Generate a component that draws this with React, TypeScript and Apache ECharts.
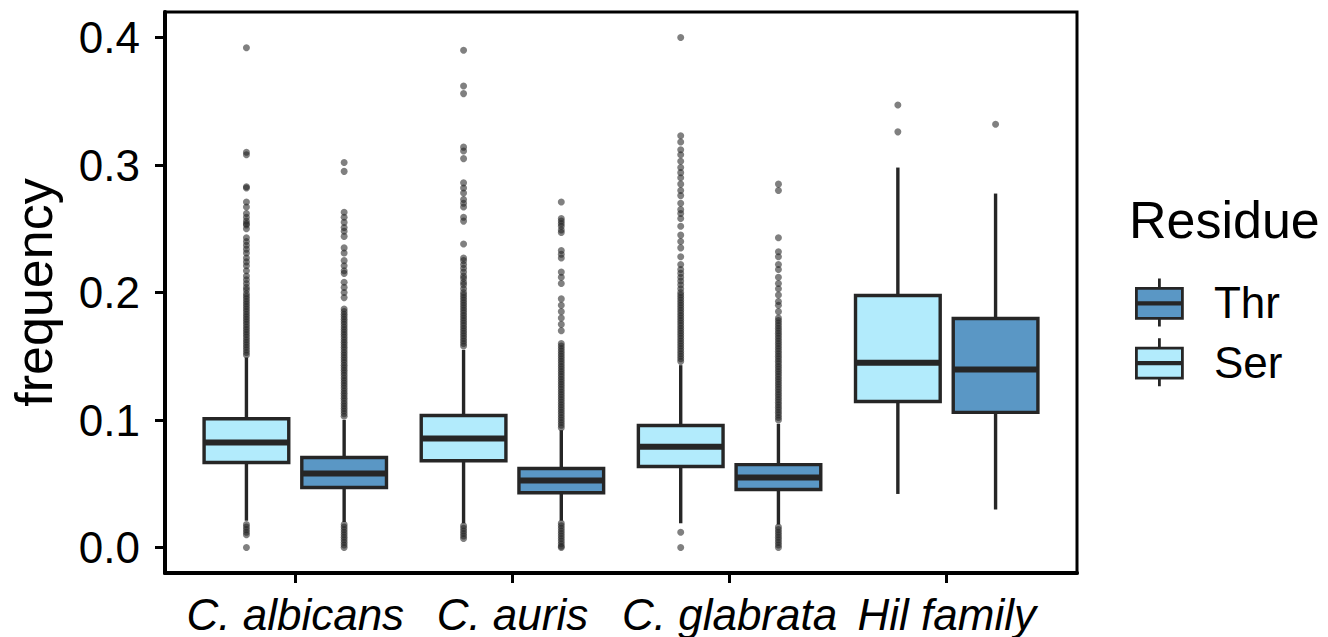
import React, { useEffect, useRef } from "react";
import * as echarts from "echarts";

// ---------- data ----------
const categories = ["C. albicans", "C. auris", "C. glabrata", "Hil family"];
const yTicks = [0, 0.1, 0.2, 0.3, 0.4];

// [low whisker, Q1, median, Q3, high whisker] per category
const serBoxes = [
  [0.021, 0.0667, 0.0824, 0.101, 0.149],
  [0.019, 0.068, 0.0855, 0.1035, 0.155],
  [0.019, 0.0635, 0.079, 0.0957, 0.143],
  [0.042, 0.1145, 0.145, 0.1976, 0.298],
];
const thrBoxes = [
  [0.02, 0.047, 0.058, 0.0706, 0.1],
  [0.021, 0.043, 0.0525, 0.062, 0.092],
  [0.018, 0.0455, 0.055, 0.065, 0.097],
  [0.0298, 0.106, 0.1396, 0.1796, 0.2776],
];

const serOutliers = [
  [0.392, 0.310, 0.308, 0.283, 0.282, 0.271, 0.267, 0.262, 0.259, 0.254, 0.250,
   0.256, 0.253, 0.243, 0.240, 0.237, 0.234, 0.231, 0.227, 0.224, 0.221, 0.217,
   0.213, 0.210, 0.207, 0.204, 0.202, 0.199, 0.197, 0.195, 0.193, 0.191, 0.189,
   0.187, 0.185, 0.183, 0.181, 0.179, 0.177, 0.175, 0.173, 0.171, 0.169, 0.167,
   0.165, 0.163, 0.161, 0.159, 0.157, 0.155, 0.153, 0.151,
   0.018, 0.016, 0.014, 0.012, 0.010, 0.0],
  [0.390, 0.362, 0.356, 0.314, 0.311, 0.305, 0.286, 0.282, 0.278, 0.273, 0.270,
   0.267, 0.259, 0.256, 0.238, 0.227, 0.225, 0.222, 0.219, 0.216, 0.213, 0.211,
   0.208, 0.206, 0.203, 0.200, 0.198, 0.196, 0.194, 0.192, 0.190, 0.188, 0.186,
   0.184, 0.182, 0.180, 0.178, 0.176, 0.174, 0.172, 0.170, 0.168, 0.166, 0.164,
   0.162, 0.160, 0.158,
   0.017, 0.015, 0.013, 0.011, 0.009, 0.007],
  [0.400, 0.323, 0.318, 0.312, 0.308, 0.303, 0.298, 0.294, 0.290, 0.285, 0.280,
   0.276, 0.270, 0.265, 0.262, 0.258, 0.252, 0.245, 0.240, 0.235, 0.228, 0.222,
   0.218, 0.215, 0.212, 0.209, 0.206, 0.203, 0.200, 0.198, 0.196, 0.194, 0.192,
   0.190, 0.188, 0.186, 0.184, 0.182, 0.180, 0.178, 0.176, 0.174, 0.172, 0.170,
   0.168, 0.166, 0.164, 0.162, 0.160, 0.158, 0.156, 0.154, 0.152, 0.150, 0.148,
   0.146, 0.012, 0.0],
  [0.347, 0.326],
];
const thrOutliers = [
  [0.302, 0.295, 0.263, 0.259, 0.255, 0.251, 0.248, 0.244, 0.235, 0.231, 0.225,
   0.221, 0.217, 0.215, 0.208, 0.204, 0.200, 0.196, 0.187, 0.185, 0.183, 0.181,
   0.179, 0.177, 0.175, 0.173, 0.171, 0.169, 0.167, 0.165, 0.163, 0.161, 0.159,
   0.157, 0.155, 0.153, 0.151, 0.149, 0.147, 0.145, 0.143, 0.141, 0.139, 0.137,
   0.135, 0.133, 0.131, 0.129, 0.127, 0.125, 0.123, 0.121, 0.119, 0.117, 0.115,
   0.113, 0.111, 0.109, 0.107, 0.105, 0.103,
   0.018, 0.016, 0.014, 0.012, 0.010, 0.008, 0.006, 0.004, 0.002, 0.0],
  [0.271, 0.258, 0.254, 0.249, 0.256, 0.252, 0.247, 0.233, 0.230, 0.227, 0.216,
   0.212, 0.207, 0.195, 0.190, 0.185, 0.180, 0.175, 0.170, 0.160, 0.158, 0.156,
   0.154, 0.152, 0.150, 0.148, 0.146, 0.144, 0.142, 0.140, 0.138, 0.136, 0.134,
   0.132, 0.130, 0.128, 0.126, 0.124, 0.122, 0.120, 0.118, 0.116, 0.114, 0.112,
   0.110, 0.108, 0.106, 0.104, 0.102, 0.100, 0.098, 0.096, 0.094,
   0.019, 0.017, 0.015, 0.013, 0.011, 0.009, 0.007, 0.005, 0.003, 0.001, 0.0],
  [0.285, 0.280, 0.243, 0.232, 0.228, 0.222, 0.218, 0.212, 0.207, 0.203, 0.198,
   0.193, 0.190, 0.185, 0.180, 0.178, 0.176, 0.174, 0.172, 0.170, 0.168, 0.166,
   0.164, 0.162, 0.160, 0.158, 0.156, 0.154, 0.152, 0.150, 0.148, 0.146, 0.144,
   0.142, 0.140, 0.138, 0.136, 0.134, 0.132, 0.130, 0.128, 0.126, 0.124, 0.122,
   0.120, 0.118, 0.116, 0.114, 0.112, 0.110, 0.108, 0.106, 0.104, 0.102, 0.100,
   0.016, 0.014, 0.012, 0.010, 0.008, 0.006, 0.004, 0.002, 0.0],
  [0.332],
];

// ---------- style ----------
const SER_COLOR = "#B2EBFC";
const THR_COLOR = "#5A97C5";
const LINE_COLOR = "#262626";
const DODGE = 0.225;
const BOX_W = 0.39;
const FONT = "'Liberation Sans', Arial, Helvetica, sans-serif";
const TEXT_SIZE = 44;
const TITLE_SIZE = 52;

const LEGEND_ICON =
  "path://M0,10 L46,10 L46,40 L0,40 Z M0,24.3 L46,24.3 L46,25.7 L0,25.7 Z M23,0 L23,10 M23,40 L23,48";

function boxData(boxes: number[][], offset: number) {
  return boxes.map((b, i) => [i + 1 + offset, ...b]);
}
function outlierData(groups: number[][], offset: number) {
  const out: number[][] = [];
  groups.forEach((g, i) => g.forEach((v) => out.push([i + 1 + offset, v])));
  return out;
}

function makeBoxSeries(name: string, boxes: number[][], offset: number, fill: string) {
  return {
    name,
    type: "custom",
    data: boxData(boxes, offset),
    encode: { x: 0, y: [1, 2, 3, 4, 5] },
    itemStyle: { color: fill },
    z: 2,
    renderItem: (_params: any, api: any) => {
      const x = api.value(0);
      const lo = api.coord([x, api.value(1)]);
      const q1 = api.coord([x, api.value(2)]);
      const med = api.coord([x, api.value(3)]);
      const q3 = api.coord([x, api.value(4)]);
      const hi = api.coord([x, api.value(5)]);
      const w = api.size([BOX_W, 0])[0];
      const cx = lo[0];
      return {
        type: "group",
        children: [
          { type: "line", shape: { x1: cx, y1: hi[1], x2: cx, y2: q3[1] }, style: { stroke: LINE_COLOR, lineWidth: 3.4 } },
          { type: "line", shape: { x1: cx, y1: q1[1], x2: cx, y2: lo[1] }, style: { stroke: LINE_COLOR, lineWidth: 3.4 } },
          {
            type: "rect",
            shape: { x: cx - w / 2, y: q3[1], width: w, height: q1[1] - q3[1] },
            style: { fill, stroke: LINE_COLOR, lineWidth: 3.4 },
          },
          {
            type: "line",
            shape: { x1: cx - w / 2, y1: med[1], x2: cx + w / 2, y2: med[1] },
            style: { stroke: LINE_COLOR, lineWidth: 6 },
          },
        ],
      };
    },
  };
}

function makeOutlierSeries(name: string, groups: number[][], offset: number) {
  return {
    name,
    type: "scatter",
    data: outlierData(groups, offset),
    symbol: "circle",
    symbolSize: 7,
    itemStyle: { color: "rgba(35,35,35,0.72)" },
    z: 3,
  };
}

export default function App() {
  const ref = useRef<HTMLDivElement>(null);
  useEffect(() => {
    if (!ref.current) return;
    const chart = echarts.init(ref.current, null, { renderer: "svg" });
    chart.setOption({
      animation: false,
      backgroundColor: "#ffffff",
      textStyle: { fontFamily: FONT },
      title: {
        text: "Residue",
        left: 1129,
        top: 194,
        padding: 0,
        textStyle: { fontFamily: FONT, fontSize: TITLE_SIZE, fontWeight: "normal", color: "#000" },
      },
      legend: {
        orient: "vertical",
        left: 1135,
        top: 277,
        padding: 0,
        itemWidth: 47,
        itemHeight: 48,
        itemGap: 9,
        selectedMode: false,
        textStyle: { fontFamily: FONT, fontSize: TEXT_SIZE, color: "#000", padding: [0, 0, 0, 26] },
        data: [
          { name: "Thr", icon: LEGEND_ICON, itemStyle: { color: THR_COLOR, borderColor: LINE_COLOR, borderWidth: 2.8 } },
          { name: "Ser", icon: LEGEND_ICON, itemStyle: { color: SER_COLOR, borderColor: LINE_COLOR, borderWidth: 2.8 } },
        ],
      },
      grid: {
        left: 163,
        top: 12,
        width: 914,
        height: 561,
        show: true,
        borderColor: "#000",
        borderWidth: 3,
        backgroundColor: "transparent",
      },
      xAxis: {
        type: "value",
        min: 0.4,
        max: 4.6,
        splitLine: { show: false },
        axisLine: { show: true, onZero: false, lineStyle: { color: "#000", width: 4 } },
        axisTick: { show: true, customValues: [1, 2, 3, 4], length: 10, lineStyle: { color: "#000", width: 3 } },
        axisLabel: {
          customValues: [1, 2, 3, 4],
          formatter: (v: number) => categories[Math.round(v) - 1] ?? "",
          fontFamily: FONT,
          fontSize: TEXT_SIZE,
          fontStyle: "italic",
          color: "#000",
          margin: 19,
        },
      },
      yAxis: {
        type: "value",
        min: -0.02,
        max: 0.42,
        name: "frequency",
        nameLocation: "middle",
        nameGap: 105,
        nameTextStyle: { fontFamily: FONT, fontSize: TITLE_SIZE, color: "#000" },
        splitLine: { show: false },
        axisLine: { show: true, onZero: false, lineStyle: { color: "#000", width: 4 } },
        axisTick: { show: true, customValues: yTicks, length: 10, lineStyle: { color: "#000", width: 3 } },
        axisLabel: {
          customValues: yTicks,
          formatter: (v: number) => v.toFixed(1),
          fontFamily: FONT,
          fontSize: TEXT_SIZE,
          color: "#000",
          margin: 25,
        },
      },
      series: [
        makeBoxSeries("Ser", serBoxes, -DODGE, SER_COLOR),
        makeBoxSeries("Thr", thrBoxes, DODGE, THR_COLOR),
        makeOutlierSeries("Ser outliers", serOutliers, -DODGE),
        makeOutlierSeries("Thr outliers", thrOutliers, DODGE),
      ],
    });
    return () => chart.dispose();
  }, []);
  return (
    <div
      ref={ref}
      style={{ position: "fixed", left: 0, top: 0, width: 1328, height: 637, background: "#fff" }}
    />
  );
}
